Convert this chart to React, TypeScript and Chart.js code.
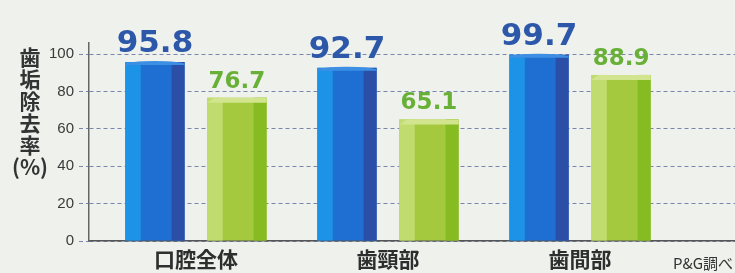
import React, { useEffect, useRef } from 'react';
import { Chart, registerables } from 'chart.js';

Chart.register(...registerables);

// ---- data ----
const categories = ['口腔全体', '歯頸部', '歯間部'];
const seriesA = [95.8, 92.7, 99.7];
const seriesB = [76.7, 65.1, 88.9];
const yTicks = [0, 20, 40, 60, 80, 100];
const yTitle = ['歯', '垢', '除', '去', '率', '(%)'];
const note = 'P&G調べ';

// ---- styles ----
const palettes = [
  { mid: '#1f6fd2', light: '#1c93e6', dark: '#2b4fa6', cap: '#3d8fe4', label: '#2d58aa', font: 'bold 31px "DejaVu Sans"' },
  { mid: '#a5c93e', light: '#c0dc6e', dark: '#86bb22', cap: '#d2e58e', label: '#68b038', font: 'bold 23px "DejaVu Sans"' },
];

const barDeco = {
  id: 'barDeco',
  afterDatasetsDraw(chart: any) {
    const ctx = chart.ctx;
    ctx.save();
    chart.data.datasets.forEach((ds: any, d: number) => {
      const meta = chart.getDatasetMeta(d);
      const pal = palettes[d];
      meta.data.forEach((el: any, i: number) => {
        const { x, y, base, width } = el.getProps(['x', 'y', 'base', 'width'], true);
        const left = x - width / 2;
        const h = base - y;
        ctx.fillStyle = pal.light;
        ctx.fillRect(left, y, width * 0.26, h);
        ctx.fillStyle = pal.dark;
        ctx.fillRect(left + width * 0.78, y, width * 0.22, h);
        // top cap
        ctx.fillStyle = pal.cap;
        ctx.beginPath();
        if (d === 0) {
          ctx.ellipse(x, y + 2, width / 2, 3, 0, Math.PI, 0);
          ctx.lineTo(left + width, y + 3);
          ctx.lineTo(left, y + 3);
        } else {
          ctx.moveTo(left, y + 5);
          ctx.lineTo(left + width * 0.12, y);
          ctx.lineTo(left + width, y);
          ctx.lineTo(left + width, y + 5);
        }
        ctx.closePath();
        ctx.fill();
        // value label
        const v = ds.data[i].y;
        ctx.font = pal.font;
        ctx.fillStyle = pal.label;
        ctx.textAlign = 'center';
        ctx.textBaseline = 'alphabetic';
        ctx.fillText(v.toFixed(1), x, y - 10);
      });
    });
    ctx.restore();
  },
  afterDraw(chart: any) {
    const ctx = chart.ctx;
    ctx.save();
    ctx.fillStyle = '#333';
    ctx.textAlign = 'center';
    ctx.textBaseline = 'middle';
    ctx.font = 'bold 21px "Noto Sans CJK JP"';
    yTitle.forEach((t, i) => {
      ctx.fillText(t, 30, 57 + i * 22);
    });
    ctx.font = '15px "Noto Sans CJK JP"';
    ctx.textAlign = 'right';
    ctx.fillText(note, 733, 263);
    ctx.restore();
  },
};

export default function App() {
  const ref = useRef<HTMLCanvasElement>(null);
  useEffect(() => {
    const chart = new Chart(ref.current!, {
      type: 'bar',
      data: {
        datasets: [
          { data: seriesA.map((v, i) => ({ x: i + 1, y: v })), backgroundColor: palettes[0].mid, borderWidth: 0, categoryPercentage: 0.854, barPercentage: 0.723 },
          { data: seriesB.map((v, i) => ({ x: i + 1, y: v })), backgroundColor: palettes[1].mid, borderWidth: 0, categoryPercentage: 0.854, barPercentage: 0.723 },
        ],
      },
      options: {
        responsive: false,
        animation: false,
        layout: { padding: { top: 43, left: 0, right: 0, bottom: 0 } },
        plugins: { legend: { display: false }, tooltip: { enabled: false } },
        scales: {
          x: {
            type: 'linear',
            offset: false,
            min: 0.443,
            max: 3.807,
            z: 1,
            grid: { display: false, offset: false },
            border: { display: true, color: '#555', width: 1.5 },
            afterBuildTicks: (s: any) => { s.ticks = categories.map((_, i) => ({ value: i + 1 })); },
            afterFit: (s: any) => { s.height = 32; },
            ticks: {
              callback: (v: any) => categories[Math.round(v) - 1] ?? '',
              color: '#2e2e2e',
              font: { family: '"Noto Sans CJK JP"', size: 21, weight: 'bold' },
              padding: -3,
              maxRotation: 0,
              autoSkip: false,
            },
          },
          y: {
            min: 0,
            max: 106,
            afterBuildTicks: (s: any) => { s.ticks = yTicks.map((v) => ({ value: v })); },
            afterFit: (s: any) => { s.width = 89; },
            grid: { color: '#7886ad', lineWidth: 1, tickLength: 10, tickColor: '#7886ad', tickBorderDash: [4, 3] },
            border: { display: true, color: '#666', width: 1.5, dash: [4, 3] },
            ticks: {
              color: '#3a3a3a',
              font: { family: '"Liberation Sans"', size: 15 },
              padding: 5,
            },
          },
        },
      },
      plugins: [barDeco],
    } as any);
    return () => chart.destroy();
  }, []);
  return (
    <div style={{ position: 'fixed', left: 0, top: 0, width: 735, height: 273, background: '#eef1ec' }}>
      <canvas ref={ref} width={735} height={273} />
    </div>
  );
}
